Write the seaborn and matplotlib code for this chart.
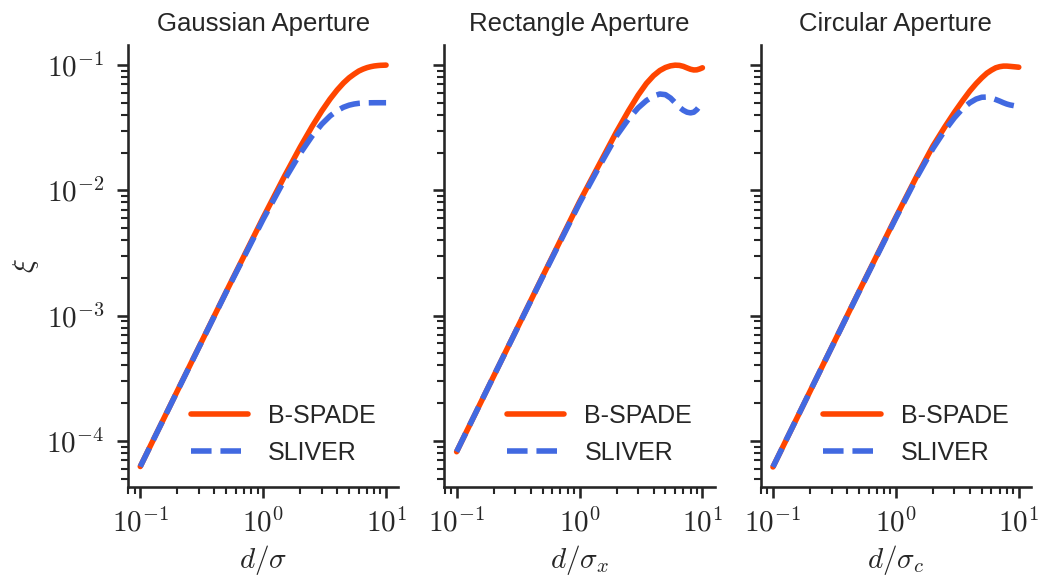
import numpy as np
import pandas as pd
import matplotlib
matplotlib.use("Agg")
import matplotlib.pyplot as plt
import matplotlib.ticker as mticker
import seaborn as sns

# separation values (same grid for every aperture)
d = [0.1, 0.2, 0.5, 1.0, 1.5, 2.0, 2.5, 3.0, 3.5, 4.0, 4.5, 5.0,
     5.5, 6.0, 6.5, 7.0, 7.5, 8.0, 8.5, 9.0, 9.5, 10.0]

# Gaussian aperture
gauss_bspade = [6.25e-5, 2.5e-4, 1.55e-3, 6.06e-3, 0.0131, 0.0221, 0.0323, 0.0430,
                0.0535, 0.0632, 0.0718, 0.0790, 0.0846, 0.0895, 0.0928, 0.0953,
                0.0970, 0.0982, 0.0989, 0.0994, 0.0996, 0.0998]
gauss_sliver = [6.24e-5, 2.49e-4, 1.54e-3, 5.88e-3, 0.01226, 0.01967, 0.02711, 0.03377,
                0.03919, 0.04323, 0.04602, 0.04780, 0.04885, 0.04944, 0.04974, 0.04989,
                0.04995, 0.04998, 0.04999, 0.0500, 0.0500, 0.0500]

# Rectangle aperture
rect_bspade = [8.2e-5, 3.28e-4, 2.05e-3, 8.1e-3, 0.0172, 0.0293, 0.0430, 0.0575,
               0.0712, 0.0822, 0.0903, 0.0955, 0.0985, 0.0997, 0.0993, 0.0975,
               0.0948, 0.0925, 0.0913, 0.0915, 0.0930, 0.0950]
rect_sliver = [8.2e-5, 3.28e-4, 2.03e-3, 7.9e-3, 0.0165, 0.0272, 0.0370, 0.0455,
               0.0520, 0.0565, 0.0587, 0.0580, 0.0545, 0.0500, 0.0460, 0.0435,
               0.0420, 0.0415, 0.0420, 0.0440, 0.0470, 0.0500]

# Circular aperture
circ_bspade = [6.2e-5, 2.48e-4, 1.55e-3, 6.1e-3, 0.0133, 0.0225, 0.032, 0.042,
               0.052, 0.062, 0.071, 0.079, 0.086, 0.091, 0.095, 0.097,
               0.098, 0.098, 0.0975, 0.097, 0.0965, 0.096]
circ_sliver = [6.2e-5, 2.48e-4, 1.54e-3, 6.0e-3, 0.0130, 0.0215, 0.030, 0.038,
               0.045, 0.050, 0.0535, 0.0553, 0.0555, 0.0545, 0.053, 0.0515,
               0.050, 0.0488, 0.048, 0.0475, 0.047, 0.0465]

titles = ["Gaussian Aperture", "Rectangle Aperture", "Circular Aperture"]
xlabels = [r"$d/\sigma$", r"$d/\sigma_x$", r"$d/\sigma_c$"]
curves = [(gauss_bspade, gauss_sliver), (rect_bspade, rect_sliver), (circ_bspade, circ_sliver)]

sns.set_theme(style="ticks", context="talk")
plt.rcParams["font.family"] = ["Liberation Sans", "DejaVu Sans"]
plt.rcParams["mathtext.fontset"] = "cm"

# decade labels drawn in Computer Modern
def decade(v, pos):
    return r"$10^{%d}$" % int(round(np.log10(v)))

fig, axes = plt.subplots(1, 3, figsize=(10.38, 5.75), dpi=100, sharey=True)
fig.subplots_adjust(left=0.1233, right=0.9933, bottom=0.153, top=0.9217, wspace=0.17)

for ax, title, xl, (bs, sl) in zip(axes, titles, xlabels, curves):
    df = pd.DataFrame({"d": d, "B-SPADE": bs, "SLIVER": sl})
    sns.lineplot(data=df, x="d", y="B-SPADE", ax=ax, color="orangered", lw=4, label="B-SPADE")
    sns.lineplot(data=df, x="d", y="SLIVER", ax=ax, color="royalblue", lw=4, ls="--", label="SLIVER")
    ax.set_xscale("log")
    ax.set_yscale("log")
    ax.xaxis.set_major_formatter(mticker.FuncFormatter(decade))
    ax.yaxis.set_major_formatter(mticker.FuncFormatter(decade))
    ax.tick_params(axis="both", which="major", labelsize=21, length=8)
    ax.tick_params(axis="both", which="minor", length=5)
    ax.tick_params(axis="y", which="major", pad=9)
    ax.tick_params(axis="x", which="major", pad=7)
    ax.set_title(title, pad=10, fontsize=18.5)
    ax.set_xlabel(xl, fontsize=21)
    ax.set_ylabel("")
    ax.legend(loc="lower right", frameon=False, fontsize=18, handlelength=2.3)

axes[0].set_ylabel(r"$\xi$", fontsize=21)
sns.despine()
fig.savefig("out.png", dpi=100)
